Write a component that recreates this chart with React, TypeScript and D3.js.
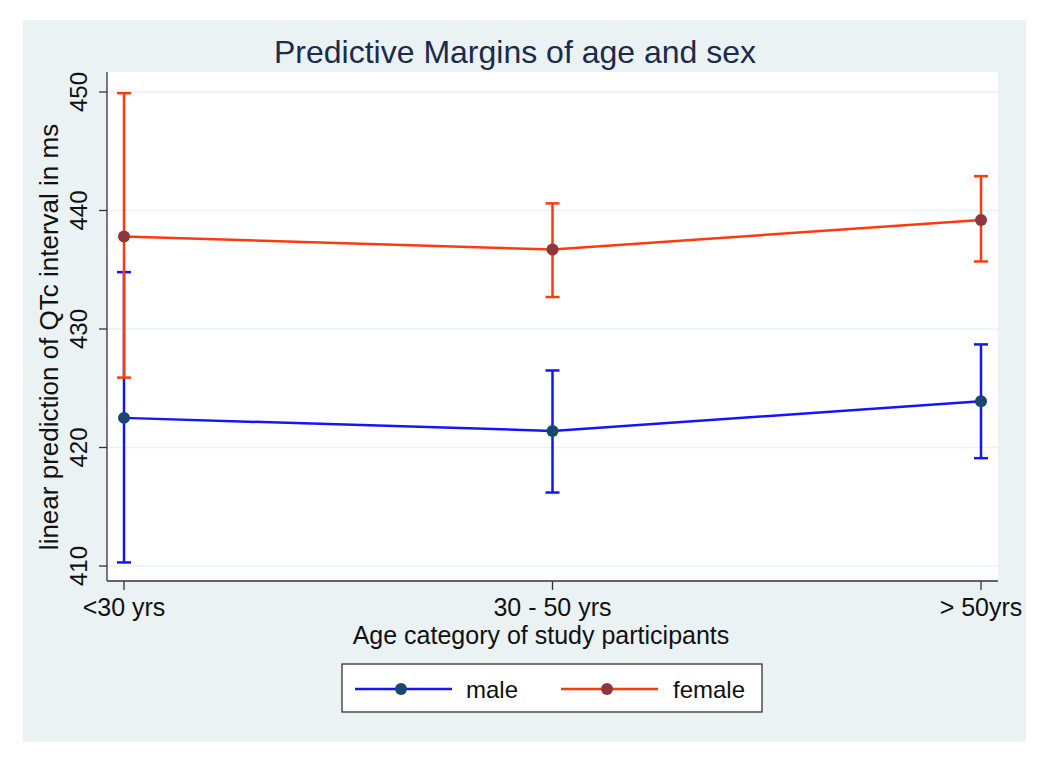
import React from "react";
import * as d3 from "d3";

const categories = ["<30 yrs", "30 - 50 yrs", "> 50yrs"];
const maleMean = [422.5, 421.4, 423.9];
const maleLow = [410.3, 416.2, 419.1];
const maleHigh = [434.8, 426.5, 428.7];
const femaleMean = [437.8, 436.7, 439.2];
const femaleLow = [425.9, 432.7, 435.7];
const femaleHigh = [449.9, 440.6, 442.9];
const yTicks = [410, 420, 430, 440, 450];

const W = 1050, H = 765;
const plotL = 107, plotR = 998, plotT = 72, plotB = 581;

export default function App() {
  const x = d3.scalePoint<string>().domain(categories).range([124, 981]);
  const y = d3.scaleLinear().domain([410, 450]).range([566, 92]);
  const line = d3.line<number>().x((_, i) => x(categories[i])!).y((v) => y(v));
  const font = "Arial, 'Liberation Sans', sans-serif";

  const series = [
    { name: "male", mean: maleMean, low: maleLow, high: maleHigh, line: "#1414ff", marker: "#1a476f" },
    { name: "female", mean: femaleMean, low: femaleLow, high: femaleHigh, line: "#ff3a0a", marker: "#90353b" },
  ];

  return (
    <svg width={W} height={H} style={{ position: "absolute", left: 0, top: 0, background: "#fff" }} fontFamily={font}>
      <rect x={23} y={20} width={1003} height={722} fill="#eaf2f3" />
      <rect x={plotL} y={plotT} width={plotR - plotL} height={plotB - plotT} fill="#fff" />
      <text x={515} y={63} textAnchor="middle" fontSize={32} fill="#1c2a4e">Predictive Margins of age and sex</text>
      {yTicks.map((t) => (
        <g key={t}>
          <line x1={plotL} x2={plotR} y1={y(t)} y2={y(t)} stroke="#eaf2f3" strokeWidth={1.5} />
          <line x1={plotL - 8} x2={plotL} y1={y(t)} y2={y(t)} stroke="#333" strokeWidth={1.3} />
          <text transform={`translate(${plotL - 20},${y(t)}) rotate(-90)`} textAnchor="middle" fontSize={24} fill="#111">{t}</text>
        </g>
      ))}
      <line x1={plotL} x2={plotL} y1={plotT} y2={plotB} stroke="#333" strokeWidth={1.3} />
      <line x1={plotL} x2={plotR} y1={plotB} y2={plotB} stroke="#333" strokeWidth={1.3} />
      {categories.map((c) => (
        <g key={c}>
          <line x1={x(c)} x2={x(c)} y1={plotB} y2={plotB + 9} stroke="#333" strokeWidth={1.3} />
          <text x={x(c)} y={616} textAnchor="middle" fontSize={25} fill="#111">{c}</text>
        </g>
      ))}
      <text x={541} y={644} textAnchor="middle" fontSize={25} fill="#111">Age category of study participants</text>
      <text transform={`translate(58,337) rotate(-90)`} textAnchor="middle" fontSize={26} fill="#111">linear prediction of QTc interval in ms</text>
      {series.map((s) => (
        <g key={s.name}>
          <path d={line(s.mean)!} fill="none" stroke={s.line} strokeWidth={2.5} />
          {s.mean.map((m, i) => {
            const cx = x(categories[i])!;
            return (
              <g key={i}>
                <line x1={cx} x2={cx} y1={y(s.low[i])} y2={y(s.high[i])} stroke={s.line} strokeWidth={2.5} />
                <line x1={cx - 7} x2={cx + 7} y1={y(s.low[i])} y2={y(s.low[i])} stroke={s.line} strokeWidth={2.5} />
                <line x1={cx - 7} x2={cx + 7} y1={y(s.high[i])} y2={y(s.high[i])} stroke={s.line} strokeWidth={2.5} />
                <circle cx={cx} cy={y(m)} r={6} fill={s.marker} />
              </g>
            );
          })}
        </g>
      ))}
      <rect x={342} y={664} width={420} height={48} fill="#fff" stroke="#333" strokeWidth={1.3} />
      {series.map((s, i) => {
        const lx = i === 0 ? 355 : 561;
        const tx = i === 0 ? 466 : 673;
        return (
          <g key={s.name}>
            <line x1={lx} x2={lx + 97} y1={689} y2={689} stroke={s.line} strokeWidth={2.5} />
            <circle cx={lx + 46} cy={689} r={6} fill={s.marker} />
            <text x={tx} y={698} fontSize={24} fill="#111">{s.name}</text>
          </g>
        );
      })}
    </svg>
  );
}
